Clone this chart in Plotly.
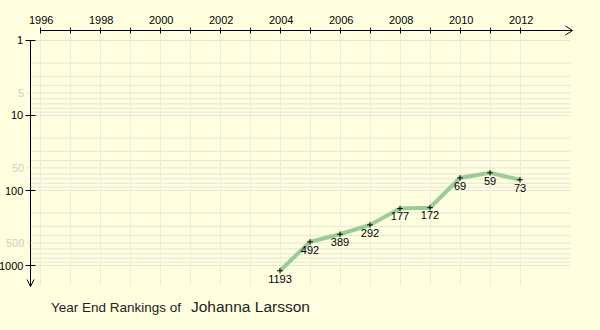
import math
import plotly.graph_objects as go

# ---- data ----
years = [2004, 2005, 2006, 2007, 2008, 2009, 2010, 2011, 2012]
rankings = [1193, 492, 389, 292, 177, 172, 69, 59, 73]
player = "Johanna Larsson"
title_prefix = "Year End Rankings of"

x_tick_years = list(range(1996, 2013))          # tick every year
x_label_years = list(range(1996, 2013, 2))      # label every 2 years
y_major_ticks = [1, 10, 100, 1000]
y_minor_labels = [5, 50, 500]

# ---- geometry (pixels) ----
W, H = 600, 330
X0_YEAR, X0_PIX, PX_PER_YEAR = 1996, 40, 30
Y0_PIX, PX_PER_DECADE = 40, 75
AXIS_Y_PIX = 30.5     # top x-axis line
AXIS_X_PIX = 30.5     # left y-axis line
X_AXIS_END = 572.5
Y_AXIS_END = 286.5
GRID_RIGHT = 570.5
GRID_BOTTOM = 285.5

BG = "#ffffe0"
GRID_H = "#e4e4dc"
GRID_V = "#ececdf"
LINE_COLOR = "rgb(153,204,150)"
FONT = "Liberation Sans, Arial, sans-serif"


def xp(year):
    return X0_PIX + PX_PER_YEAR * (year - X0_YEAR)


def yp(rank):
    return Y0_PIX + PX_PER_DECADE * math.log10(rank)


def P(px, py):
    return px / W, 1 - py / H


x_range = [X0_YEAR - X0_PIX / PX_PER_YEAR, X0_YEAR + (W - X0_PIX) / PX_PER_YEAR]
y_range = [(H - Y0_PIX) / PX_PER_DECADE, -Y0_PIX / PX_PER_DECADE]  # reversed log

shapes = []
annotations = []


def seg(x0, y0, x1, y1, color, width=1):
    a = P(x0, y0)
    b = P(x1, y1)
    shapes.append(dict(type="line", xref="paper", yref="paper",
                       x0=a[0], y0=a[1], x1=b[0], y1=b[1],
                       line=dict(color=color, width=width), layer="below"))


# horizontal grid lines (1..9 per decade)
for d in range(0, 3):
    for m in range(1, 10):
        r = m * 10 ** d
        seg(AXIS_X_PIX, yp(r) + 0.5, GRID_RIGHT, yp(r) + 0.5, GRID_H)
seg(AXIS_X_PIX, yp(1000) + 0.5, GRID_RIGHT, yp(1000) + 0.5, GRID_H)

# vertical grid lines
for yr in x_tick_years:
    seg(xp(yr) + 0.5, AXIS_Y_PIX, xp(yr) + 0.5, GRID_BOTTOM, GRID_V)

# x axis line, ticks, arrow
seg(X0_PIX, AXIS_Y_PIX, X_AXIS_END, AXIS_Y_PIX, "black")
for yr in x_tick_years:
    seg(xp(yr) + 0.5, AXIS_Y_PIX - 3, xp(yr) + 0.5, AXIS_Y_PIX + 3, "black")
seg(X_AXIS_END - 7, AXIS_Y_PIX - 4.5, X_AXIS_END, AXIS_Y_PIX, "black")
seg(X_AXIS_END - 7, AXIS_Y_PIX + 4.5, X_AXIS_END, AXIS_Y_PIX, "black")
for yr in x_label_years:
    x, y = P(xp(yr) + 0.5, 20)
    annotations.append(dict(x=x, y=y, xref="paper", yref="paper",
                            text=str(yr), showarrow=False,
                            font=dict(family=FONT, size=11, color="black"),
                            xanchor="center", yanchor="middle"))

# y axis line, ticks, arrow
seg(AXIS_X_PIX, yp(1), AXIS_X_PIX, Y_AXIS_END, "black")
seg(AXIS_X_PIX - 3.5, Y_AXIS_END - 7, AXIS_X_PIX, Y_AXIS_END, "black")
seg(AXIS_X_PIX + 3.5, Y_AXIS_END - 7, AXIS_X_PIX, Y_AXIS_END, "black")
for r in y_major_ticks:
    seg(AXIS_X_PIX - 5, yp(r) + 0.5, AXIS_X_PIX + 5, yp(r) + 0.5, "black")
    x, y = P(25, yp(r) + 0.5)
    annotations.append(dict(x=x, y=y, xref="paper", yref="paper",
                            text=str(r), showarrow=False,
                            font=dict(family=FONT, size=11, color="black"),
                            xanchor="right", yanchor="middle"))
for r in y_minor_labels:
    seg(AXIS_X_PIX - 3, yp(r) + 0.5, AXIS_X_PIX, yp(r) + 0.5, "#cfcfc4")
    x, y = P(26, yp(r) + 0.5)
    annotations.append(dict(x=x, y=y, xref="paper", yref="paper",
                            text=str(r), showarrow=False,
                            font=dict(family=FONT, size=11, color="#cfcfc4"),
                            xanchor="right", yanchor="middle"))

# title at bottom
x, y = P(49, 307)
annotations.append(dict(x=x, y=y, xref="paper", yref="paper",
                        text=title_prefix, showarrow=False,
                        font=dict(family=FONT, size=13.5, color="#222222"),
                        xanchor="left", yanchor="middle"))
x, y = P(189, 306)
annotations.append(dict(x=x, y=y, xref="paper", yref="paper",
                        text=player, showarrow=False,
                        font=dict(family=FONT, size=15.5, color="#222222"),
                        xanchor="left", yanchor="middle"))

fig = go.Figure()
fig.add_trace(go.Scatter(x=years, y=rankings, mode="lines",
                         line=dict(color=LINE_COLOR, width=4),
                         hoverinfo="skip"))
fig.add_trace(go.Scatter(x=years, y=rankings, mode="markers+text",
                         marker=dict(symbol="cross-thin", size=4,
                                     line=dict(color="black", width=1),
                                     color="black"),
                         text=[str(r) for r in rankings],
                         textposition="bottom center",
                         textfont=dict(family=FONT, size=11, color="black")))

fig.update_layout(
    width=W, height=H,
    margin=dict(l=0, r=0, t=0, b=0),
    paper_bgcolor=BG, plot_bgcolor=BG,
    showlegend=False,
    xaxis=dict(range=x_range, visible=False, domain=[0, 1], fixedrange=True),
    yaxis=dict(type="log", range=y_range, visible=False, domain=[0, 1],
               fixedrange=True),
    shapes=shapes,
    annotations=annotations,
)

fig.write_html("out.html")
